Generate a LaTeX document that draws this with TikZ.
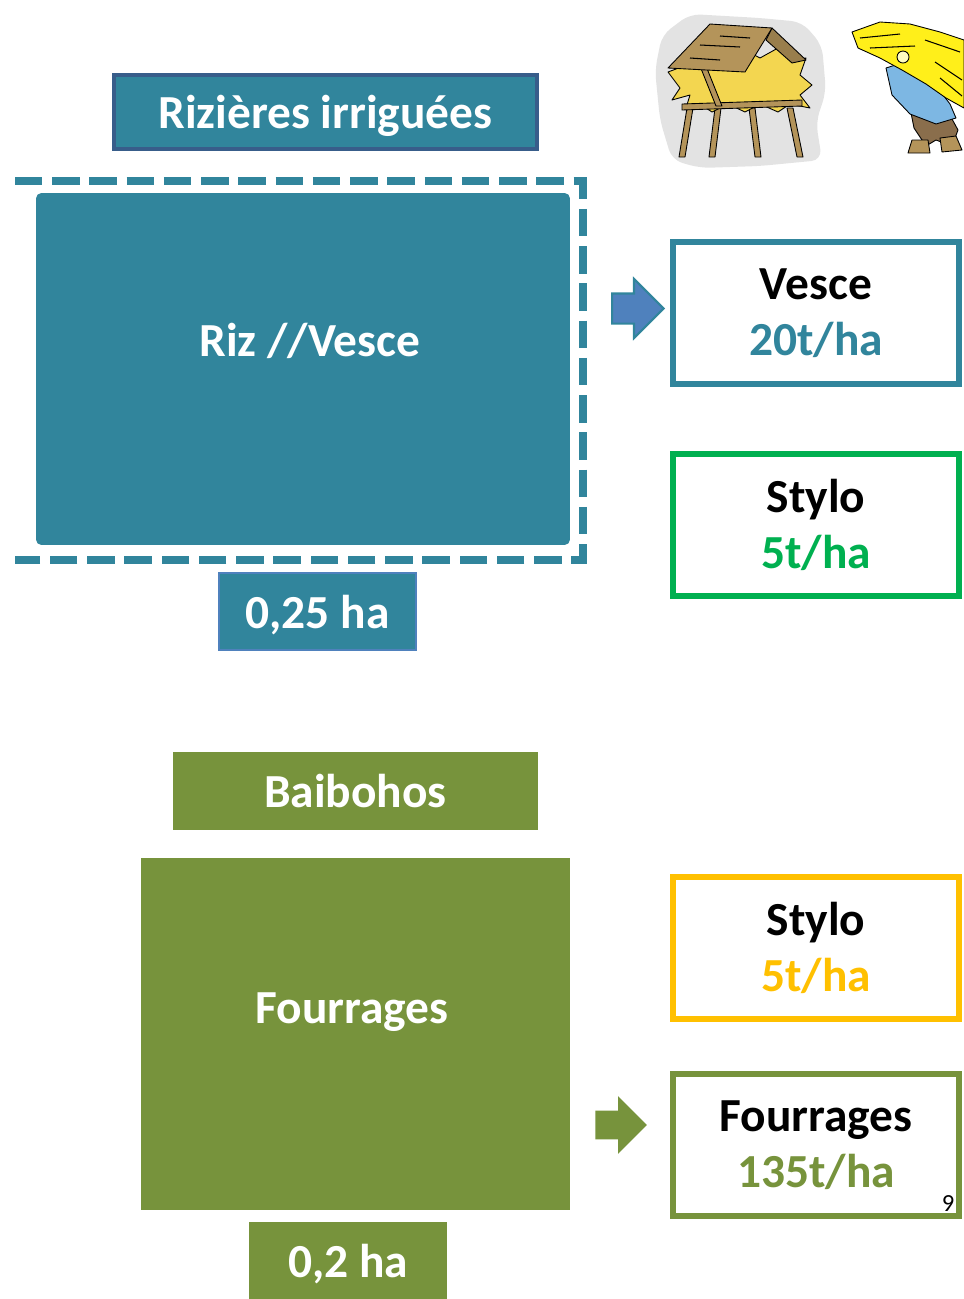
\documentclass[tikz,border=0pt]{standalone}
\usepackage{fontspec}
\setmainfont{Carlito}
\usetikzlibrary{shapes.arrows}
\definecolor{teal5}{HTML}{31859C}
\definecolor{navyedge}{HTML}{385D8A}
\definecolor{areaedge}{HTML}{4F81BD}
\definecolor{olive}{HTML}{77933C}
\definecolor{grass}{HTML}{00B050}
\definecolor{gold}{HTML}{FFC000}
\definecolor{arrowblue}{HTML}{4F81BD}
\definecolor{hay}{HTML}{F3D650}
\definecolor{haybright}{HTML}{FFEF1A}
\definecolor{wood}{HTML}{B4945A}
\definecolor{shirt}{HTML}{7DB7E3}
\definecolor{trousers}{HTML}{8A6E4C}
\tikzset{
  big/.style={font=\bfseries\fontsize{27}{32}\selectfont},
  tag/.style={big, fill=#1, text=white, inner sep=0pt, text depth=0pt},
  plot/.style={fill=#1, inner sep=0pt},
  yield/.style={big, draw=#1, line width=3.4pt, fill=white, align=center, minimum width=5.72cm, minimum height=2.84cm},
  barr/.style={single arrow, fill=#1, inner xsep=0pt, inner ysep=0.28cm, single arrow head extend=0.29cm, minimum height=1.03cm, anchor=tail},
  ink/.style={draw=black, line width=0.5pt, line join=round}
}

\begin{document}
\begin{tikzpicture}[x=0.02cm, y=-0.02cm]
  \useasboundingbox (0,0) rectangle (964,1299);

  % rice fields
  \node[tag=teal5, draw=navyedge, line width=2.3pt, minimum width=8.46cm, minimum height=1.48cm] (riztitle) at (325.5,112) {Rizières irriguées};
  \draw[teal5, line width=4.5pt, dash pattern=on 15.6pt off 5.6pt] (15,181) -- (583,181) -- (583,560) -- (15,560);
  \node[plot=teal5, rounded corners=3pt, minimum width=10.68cm, minimum height=7.04cm] (riz) at (303,369) {};
  \node[tag=teal5] (rizlbl) at (310,340) {Riz //Vesce};
  \node[tag=teal5, draw=areaedge, line width=0.8pt, minimum width=3.94cm, minimum height=1.54cm] (rizarea) at (317.5,611.5) {0,25 ha};
  \node[barr=arrowblue, draw=teal5, line width=1.2pt] (rizarr) at (611,308.5) {};
  \node[yield=teal5] (vesce) at (816,313) {Vesce\\\textcolor{teal5}{20t/ha}};
  \node[yield=grass] (stylo1) at (816,525) {Stylo\\\textcolor{grass}{5t/ha}};

  % baibohos
  \node[tag=olive, minimum width=7.3cm, minimum height=1.56cm] (baititle) at (355.5,791) {Baibohos};
  \node[plot=olive, minimum width=8.58cm, minimum height=7.04cm] (bai) at (355.5,1034) {};
  \node[tag=olive] (bailbl) at (352,1008) {Fourrages};
  \node[tag=olive, minimum width=3.96cm, minimum height=1.54cm] (baiarea) at (348,1260.5) {0,2 ha};
  \node[barr=olive] (baiarr) at (595,1125) {};
  \node[yield=gold] (stylo2) at (816,948) {Stylo\\\textcolor{gold}{5t/ha}};
  \node[yield=olive] (fourr) at (816,1145) {Fourrages\\\textcolor{olive}{135t/ha}};

  \node[font=\fontsize{14}{16}\selectfont, inner sep=0pt] (pageno) at (948,1204) {9};

  % hay loft clip art
  \fill[gray!22, rounded corners=6pt] (662,35) -- (690,14) -- (760,18) -- (802,22) -- (822,45) -- (826,92) -- (816,122) -- (822,160) -- (760,166) -- (700,168) -- (672,160) -- (660,120) -- (655,70) -- cycle;
  \foreach \a/\b in {690/682, 718/712, 752/758, 790/800}
    \draw[ink, fill=wood] (\a-3,108) -- (\a+3,108) -- (\b+3,157) -- (\b-3,157) -- cycle;
  \draw[ink, fill=hay] (668,72) -- (684,66) -- (680,56) -- (700,62) -- (712,52) -- (728,60) -- (745,50) -- (760,58) -- (778,48) -- (790,60) -- (806,58) -- (800,75) -- (812,85) -- (800,95) -- (810,108) -- (790,104) -- (778,112) -- (760,104) -- (745,112) -- (728,104) -- (712,112) -- (700,104) -- (686,108) -- (690,95) -- (672,100) -- (680,88) -- cycle;
  \draw[ink, fill=wood] (682,104) -- (802,100) -- (802,106) -- (682,110) -- cycle;
  \draw[ink, fill=wood] (700,66) -- (706,66) -- (722,106) -- (716,106) -- cycle;
  \draw[ink, fill=wood!85!black] (772,28) -- (806,60) -- (792,63) -- (766,40) -- cycle;
  \draw[ink, fill=wood] (668,68) -- (710,24) -- (772,28) -- (745,72) -- cycle;
  \draw[line width=0.6pt] (700,45) -- (740,47) (690,58) -- (720,60) (720,36) -- (750,38);

  % man carrying hay
  \draw[ink, fill=trousers] (910,108) -- (946,108) -- (958,130) -- (952,146) -- (936,140) -- (926,146) -- (914,128) -- cycle;
  \draw[ink, fill=wood] (912,140) -- (928,140) -- (930,153) -- (908,153) -- cycle;
  \draw[ink, fill=wood] (940,138) -- (956,136) -- (962,150) -- (942,152) -- cycle;
  \draw[ink, fill=shirt] (886,68) -- (905,62) -- (930,78) -- (950,104) -- (956,118) -- (936,124) -- (910,114) -- (892,95) -- cycle;
  \draw[ink, fill=haybright] (852,32) -- (880,22) -- (910,24) -- (940,32) -- (964,40) -- (964,108) -- (946,98) -- (926,84) -- (902,70) -- (880,58) -- (858,48) -- cycle;
  \draw[line width=0.6pt] (860,38) -- (900,34) (870,48) -- (915,46) (925,40) -- (960,52) (935,62) -- (962,80) (940,78) -- (962,96);
  \draw[ink, fill=yellow!25] (903,57) circle (6);
\end{tikzpicture}
\end{document}
